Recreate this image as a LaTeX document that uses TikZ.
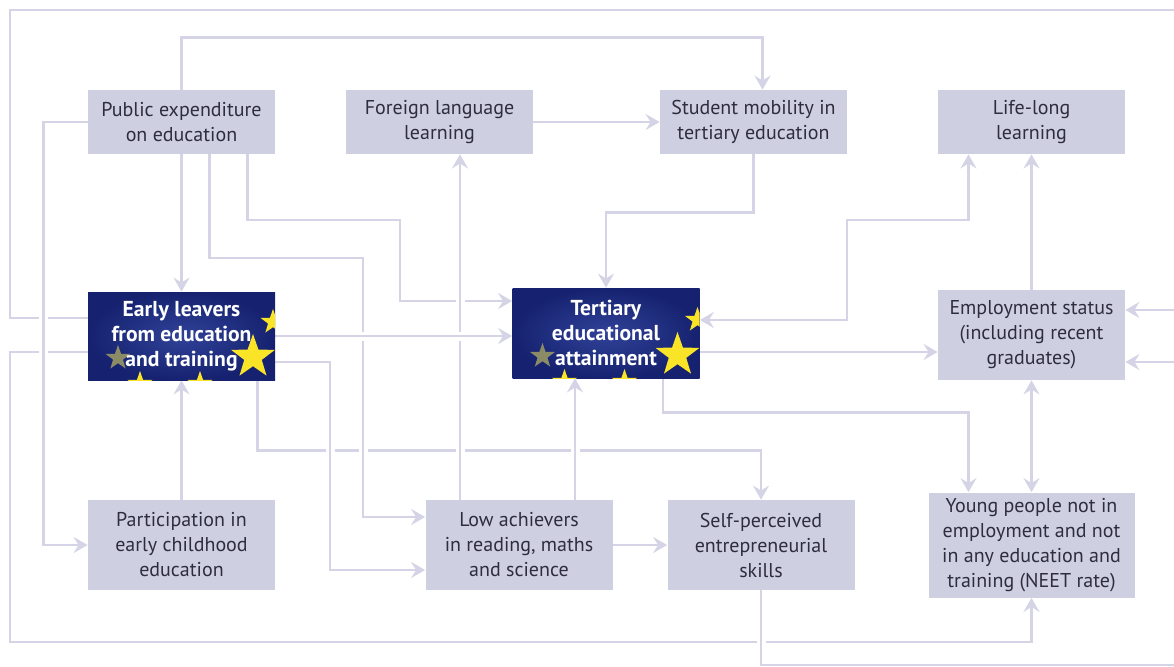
\documentclass[tikz,border=0pt]{standalone}
\usepackage{fontspec}
\setmainfont{PT Sans}
\usepackage{xcolor}
\usetikzlibrary{shapes,arrows.meta,positioning,calc,backgrounds}
\definecolor{boxgray}{RGB}{206,208,226}
\definecolor{linegray}{RGB}{212,212,230}
\definecolor{txtgray}{RGB}{45,45,62}
\definecolor{eudark}{RGB}{22,34,112}
\definecolor{eumid}{RGB}{48,66,152}
\definecolor{staryellow}{RGB}{250,228,40}

\begin{document}
\begin{tikzpicture}[x=0.5pt, y=-0.5pt, font=\fontsize{10}{12.5}\selectfont, >={Stealth[length=7pt,width=8pt,inset=2.5pt]}]
  \tikzstyle{box}=[rectangle, fill=boxgray, text=txtgray, minimum width=93.5pt, minimum height=32pt, inner sep=2pt, align=center]
  \tikzstyle{tall}=[box, minimum height=45pt]
  \tikzstyle{star5}=[star, star points=5, star point ratio=2.5, fill=staryellow, inner sep=0pt]
  \tikzstyle{eubox}=[rectangle, inner color=eumid, outer color=eudark, text=white, font=\bfseries\fontsize{10.8}{12.5}\selectfont, minimum width=93.5pt, minimum height=44pt, inner sep=1pt, align=center,
    path picture={
      \node[star5, minimum size=23pt] at ([shift={(-11pt,11.5pt)}]path picture bounding box.south east) {};
      \node[star5, minimum size=13pt] at ([shift={(-1pt,29pt)}]path picture bounding box.south east) {};
      \node[star5, minimum size=13pt] at ([shift={(26pt,-2pt)}]path picture bounding box.south west) {};
      \node[star5, minimum size=13pt] at ([shift={(56pt,-2pt)}]path picture bounding box.south west) {};
      \node[star5, minimum size=13pt, fill=staryellow!45!eumid] at ([shift={(15pt,11pt)}]path picture bounding box.south west) {};
    }]
  \tikzstyle{link}=[draw=linegray, line width=1.2pt, preaction={draw=white, line width=4.5pt, arrows=-}, ->]

  \useasboundingbox (0,0) rectangle (1174,666);

  \node[box] (pub) at (181.5,122) {Public expenditure\\on education};
  \node[box, right of=pub, node distance=129pt] (flang) {Foreign language\\learning};
  \node[box, right of=flang, node distance=157pt] (mob) {Student mobility in\\tertiary education};
  \node[box, right of=mob, node distance=139pt] (lll) {Life-long\\learning};
  \node[eubox, below of=pub, node distance=107pt] (early) {Early leavers\\from education\\and training};
  \node[eubox, right of=early, node distance=212.25pt, yshift=1.5pt, minimum height=45pt] (tert) {Tertiary\\educational\\attainment};
  \node[tall, below of=lll, node distance=106.5pt] (emp) {Employment status\\(including recent\\graduates)};
  \node[tall, below of=early, node distance=104.5pt] (part) {Participation in\\early childhood\\education};
  \node[tall, right of=part, node distance=168.75pt] (low) {Low achievers\\in reading, maths\\and science};
  \node[tall, right of=low, node distance=121pt] (self) {Self-perceived\\entrepreneurial\\skills};
  \node[tall, below of=emp, node distance=105pt, minimum width=103pt, minimum height=52.5pt] (neet) {Young people not in\\employment and not\\in any education and\\training (NEET rate)};

  \begin{scope}[on background layer]
    \fill[white] (0,0) rectangle (1174,666);
    % loops round the edge
    \draw[link] ([yshift=9pt]early.west) -| (10,10) -- (1180,10) |- ([yshift=12.5pt]emp.east);
    \draw[link] ([yshift=-8pt]early.west) -| (10,642) -| (neet.south);
    \draw[link] (self.south) |- (1180,665) |- ([yshift=-13.5pt]emp.east);
    \draw[link] ([xshift=38pt]early.south) -- ++(0,-35pt) -| (self.north);
    \draw[link] (pub.west) -- ++(-22pt,0) |- (part.west);
    \draw[link] (pub.north) -- ++(0,26pt) -| ([xshift=4.5pt]mob.north);
    \draw[link] ([xshift=14pt]pub.south) |- (363,258) |- ([yshift=14pt]low.west);
    \draw[link] ([xshift=33pt]pub.south) |- (400,220) |- ([yshift=16pt]tert.west);
    \draw[link] ([yshift=-13pt]early.east) -| (330,570) -- ([yshift=-12.5pt]low.west);
    \draw[link] ([xshift=-29.5pt]low.north) -- ([xshift=-29.5pt]low.north |- flang.south);
    \draw[link] ([xshift=28pt]low.north) -- ([xshift=28pt]low.north |- tert.south);
    \draw[link] (early.east) -- (early.east -| tert.west);
    \draw[link] (pub) -- (early);
    \draw[link] (part) -- (early);
    \draw[link] (low) -- (self);
    \draw[link] (flang) -- (mob);
    \draw[link] (mob.south) -- ++(0,-29pt) -| (tert.north);
    \draw[link, <->] ([yshift=6.5pt]tert.east) -| (847,220) -| ([xshift=-31.5pt]lll.south);
    \draw[link] ([yshift=-9.5pt]tert.east) -- ([yshift=-9.5pt]tert.east -| emp.west);
    \draw[link] ([xshift=28.5pt]tert.south) -- ++(0,-17pt) -| ([xshift=-31.5pt]neet.north);
    \draw[link] (emp) -- (lll);
    \draw[link, <->] (emp) -- (neet);
  \end{scope}
\end{tikzpicture}
\end{document}
